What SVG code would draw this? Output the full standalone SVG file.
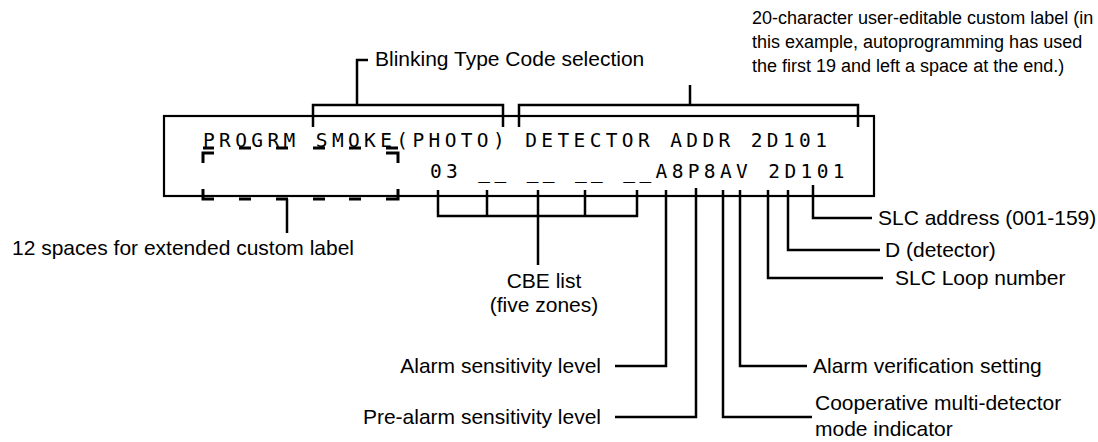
<svg xmlns="http://www.w3.org/2000/svg" width="1098" height="442" viewBox="0 0 1098 442">
<style>
.lbl{font-family:"Liberation Sans",Arial,sans-serif;font-size:21px;fill:#000}
.top{font-family:"Liberation Sans",Arial,sans-serif;font-size:18px;fill:#000}
.lcd{font-family:"DejaVu Sans Mono",monospace;font-size:19.5px;letter-spacing:4.37px;fill:#000}
.ln{fill:none;stroke:#000;stroke-width:2.5}
.dash{fill:none;stroke:#000;stroke-width:3}
</style>
<rect width="1098" height="442" fill="#fff"/>
<g id="display">
<rect x="164" y="116" width="710" height="80" fill="none" stroke="#000" stroke-width="2.2"/>
<text class="lcd" x="203" y="147">PROGRM SMOKE(PHOTO) DETECTOR ADDR 2D101</text>
<text class="lcd" x="430" y="178">03 __ __ __ __A8P8AV 2D101</text>
</g>
<g id="extended-label-box">
<path class="dash" d="M203,148h11M239,148h12M276,148h12M313,148h12M349,148h12M386,148h12"/>
<path class="dash" d="M203,163V153h11M398,163V153h-12"/>
<path class="dash" d="M203,189V199h11M239,199h12M276,199h12M313,199h12M349,199h12M398,189V199h-12"/>
</g>
<g id="connectors">
<path class="ln" d="M287,199V233"/>
<path class="ln" d="M368,60H357V105"/>
<path class="ln" d="M313,127V105H503V127"/>
<path class="ln" d="M519,127V105H858V127"/>
<path class="ln" d="M690,105V85"/>
<path class="ln" d="M438,190V216H637V190M487,190V216M585,190V216M538,190V265"/>
<path class="ln" d="M666,190V366H615"/>
<path class="ln" d="M696,188V417H615"/>
<path class="ln" d="M723,190V417H812"/>
<path class="ln" d="M740,190V366H807"/>
<path class="ln" d="M768,190V278H883"/>
<path class="ln" d="M788,190V250H880"/>
<path class="ln" d="M813,185V218H872"/>
</g>
<g id="labels">
<text class="lbl" x="375" y="66">Blinking Type Code selection</text>
<text class="top" x="752" y="24">20-character user-editable custom label (in</text>
<text class="top" x="752" y="48">this example, autoprogramming has used</text>
<text class="top" x="752" y="72">the first 19 and left a space at the end.)</text>
<text class="lbl" x="12" y="255">12 spaces for extended custom label</text>
<text class="lbl" x="544" y="288" text-anchor="middle">CBE list</text>
<text class="lbl" x="544" y="312" text-anchor="middle">(five zones)</text>
<text class="lbl" x="601" y="373" text-anchor="end">Alarm sensitivity level</text>
<text class="lbl" x="601" y="424" text-anchor="end">Pre-alarm sensitivity level</text>
<text class="lbl" x="813" y="373">Alarm verification setting</text>
<text class="lbl" x="815" y="410">Cooperative multi-detector</text>
<text class="lbl" x="815" y="436">mode indicator</text>
<text class="lbl" x="895" y="285">SLC Loop number</text>
<text class="lbl" x="885" y="257">D (detector)</text>
<text class="lbl" x="878" y="225">SLC address (001-159)</text>
</g>
</svg>
